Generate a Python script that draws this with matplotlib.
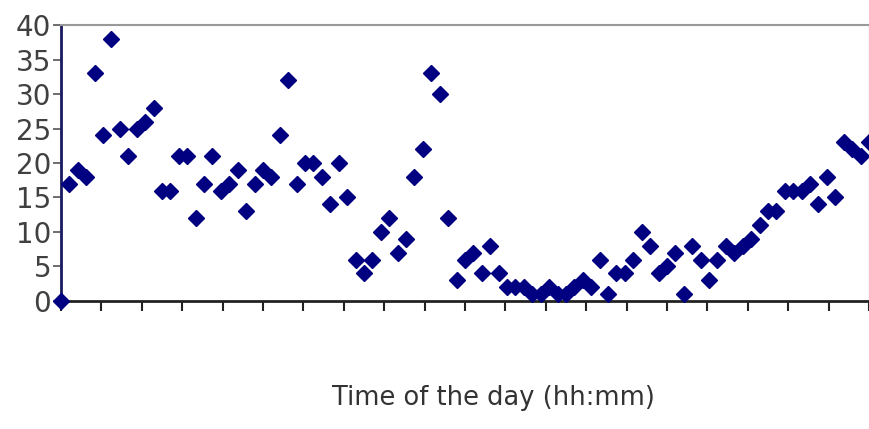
import numpy as np
from matplotlib import pyplot as plt

# readings every 15 minutes over the day (97 samples)
values = [0, 17, 19, 18, 33, 24, 38, 25, 21, 25, 26, 28, 16, 16, 21, 21,
          12, 17, 21, 16, 17, 19, 13, 17, 19, 18, 24, 32, 17, 20, 20, 18,
          14, 20, 15, 6, 4, 6, 10, 12, 7, 9, 18, 22, 33, 30, 12, 3,
          6, 7, 4, 8, 4, 2, 2, 2, 1, 1, 2, 1, 1, 2, 3, 2,
          6, 1, 4, 4, 6, 10, 8, 4, 5, 7, 1, 8, 6, 3, 6, 8,
          7, 8, 9, 11, 13, 13, 16, 16, 16, 17, 14, 18, 15, 23, 22, 21, 23]
samples = np.arange(len(values))
xticks = np.linspace(0, 96, 21)
yticks = [0, 5, 10, 15, 20, 25, 30, 35, 40]

fig = plt.figure(figsize=(8.7, 4.29), dpi=100)
ax = fig.add_axes([0.0701, 0.2984, 0.9287, 0.6433])

ax.plot(samples, values, linestyle='none', marker='D', markersize=8.2,
        color='#000080', markeredgecolor='#000080', clip_on=False, zorder=5)

ax.set_xlim(0, 96)
ax.set_ylim(0, 40)
ax.set_xticks(xticks)
ax.set_xticklabels([])
ax.set_yticks(yticks)
ax.set_yticklabels([str(v) for v in yticks], fontsize=20, color='#404040')
ax.tick_params(axis='x', direction='out', length=7, width=1.5, color='#222222')
ax.tick_params(axis='y', direction='out', length=6, width=1.2, color='#555555', pad=1)

ax.spines['left'].set_color('#1a1a60')
ax.spines['left'].set_linewidth(2)
ax.spines['bottom'].set_color('#222222')
ax.spines['bottom'].set_linewidth(2)
ax.spines['top'].set_color('#999999')
ax.spines['top'].set_linewidth(1.5)
ax.spines['right'].set_color('#cccccc')
ax.spines['right'].set_linewidth(1)

fig.text(0.567, 0.042, 'Time of the day (hh:mm)', fontsize=18.5,
         color='#333333', ha='center', va='bottom')

fig.savefig('out.png', dpi=100)
